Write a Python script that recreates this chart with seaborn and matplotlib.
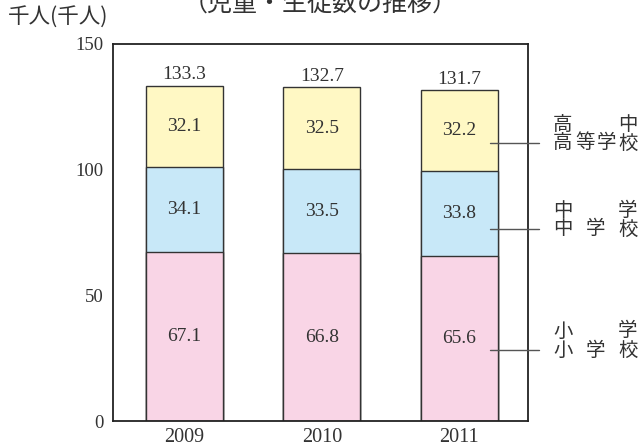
import pandas as pd
import matplotlib.pyplot as plt
import seaborn as sns

# ------------------------------------------------------------
# data
# ------------------------------------------------------------
years = ["2009", "2010", "2011"]
elementary = [67.1, 66.8, 65.6]   # 小学校
junior = [34.1, 33.5, 33.8]       # 中学校
senior = [32.1, 32.5, 32.2]       # 高等学校
totals = [133.3, 132.7, 131.7]

y_ticks = [0, 50, 100, 150]

df = pd.DataFrame({"year": years, "elem": elementary, "jr": junior, "sr": senior})
df["c1"] = df["elem"]
df["c2"] = df["elem"] + df["jr"]
df["c3"] = df["c2"] + df["sr"]

sns.set_style("white")
plt.rcParams["font.family"] = ["Liberation Serif", "Noto Sans CJK JP", "DejaVu Sans"]

col_elem = "#f9d5e6"
col_jr = "#c8e8f8"
col_sr = "#fff8c4"
edge = "#333333"
txt = "#333333"

W, H = 643, 447
fig = plt.figure(figsize=(W / 100, H / 100), dpi=100)
ax = fig.add_axes([113 / W, 26 / H, 415 / W, 377 / H])

# stacked bars: draw cumulative heights from top down
for col, color in [("c3", col_sr), ("c2", col_jr), ("c1", col_elem)]:
    sns.barplot(data=df, x="year", y=col, color=color, width=0.56,
                edgecolor=edge, linewidth=1.0, saturation=1, ax=ax)

ax.set_xlim(-0.52, 2.5)
ax.set_ylim(0, 150)
ax.set_yticks(y_ticks)
ax.set_xlabel("")
ax.set_ylabel("")
ax.tick_params(axis="y", length=4, width=1, color=edge, labelsize=13.5, pad=3, labelcolor=txt)
ax.tick_params(axis="x", length=0, labelsize=14.5, pad=5, labelcolor=txt)
for s in ax.spines.values():
    s.set_color("#222222")
    s.set_linewidth(1.3)

# value labels
for i in range(len(years)):
    ax.text(i, elementary[i] / 2, f"{elementary[i]:.1f}", ha="center", va="center", fontsize=14, color=txt)
    ax.text(i, elementary[i] + junior[i] / 2, f"{junior[i]:.1f}", ha="center", va="center", fontsize=14, color=txt)
    ax.text(i, elementary[i] + junior[i] + senior[i] / 2, f"{senior[i]:.1f}", ha="center", va="center", fontsize=14, color=txt)
    ax.text(i, df["c3"][i] + 4.4, f"{totals[i]:.1f}", ha="center", va="center", fontsize=14, color=txt)

# leader lines and right-hand labels (characters spread across a fixed width)
jp = ["Noto Sans CJK JP", "DejaVu Sans"]


def spread(label, y_px, x0=553, x1=638, cw=20):
    chars = [c for c in label if c.strip() and c != "　"]
    n = len(chars)
    for k, c in enumerate(chars):
        cx = x0 + cw / 2 + (k * (x1 - x0 - cw) / (n - 1) if n > 1 else 0)
        fig.text(cx / W, 1 - y_px / H, c, ha="center", va="center",
                 fontsize=14, family=jp, color=txt)


leaders = [(110.6, 143, "高　　中", "高等学校"),
           (76.4, 229, "中　　学", "中 学 校"),
           (28.3, 350, "小　　学", "小 学 校")]
for yv, ypx, top, bottom in leaders:
    ax.plot([2.224, 2.58], [yv, yv], color="#555555", lw=1.0, clip_on=False, zorder=5)
    spread(bottom, ypx)
    spread(top, ypx - 19)

fig.text(8 / W, 1 - 18 / H, "千人(千人)", ha="left", va="center", fontsize=15.5, family=jp, color=txt)
fig.text(320 / W, 1 - 4 / H, "（児童・生徒数の推移）", ha="center", va="center", fontsize=18, family=jp, color=txt)

fig.savefig("out.png", dpi=100)
